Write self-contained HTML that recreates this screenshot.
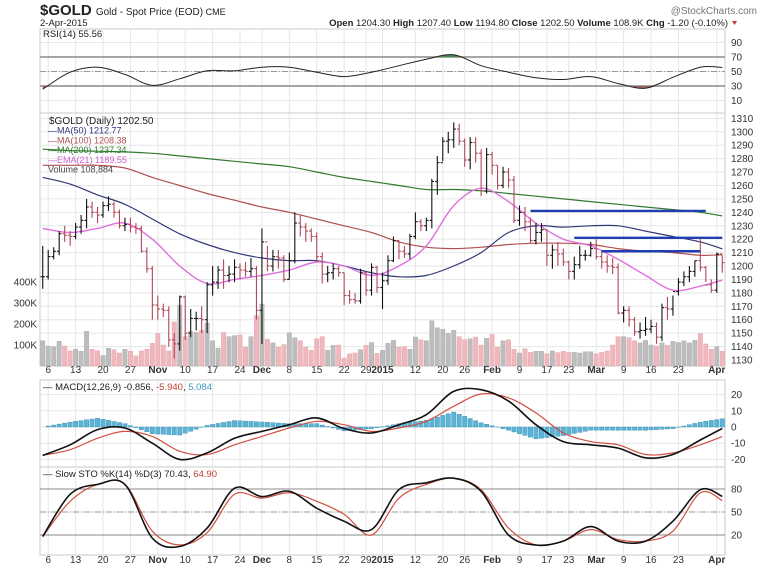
<!DOCTYPE html>
<html><head><meta charset="utf-8"><style>
html,body{margin:0;padding:0;background:#fff;}
svg{display:block;font-family:"Liberation Sans",sans-serif;}
</style></head><body>
<svg id="chart" width="765" height="570" viewBox="0 0 765 570" xmlns="http://www.w3.org/2000/svg">
<rect x="0" y="0" width="765" height="570" fill="#fff"/>
<g id="hdr">
<text x="40" y="15" font-size="15" font-weight="bold" fill="#222">$GOLD <tspan font-size="10" font-weight="normal">Gold - Spot Price (EOD)</tspan><tspan font-size="9" font-weight="normal"> CME</tspan></text>
<text x="40" y="26" font-size="9.5" fill="#222">2-Apr-2015</text>
<text x="757" y="14" font-size="10" fill="#777" text-anchor="end">@StockCharts.com</text>
<text x="728" y="26" font-size="9.5" fill="#222" text-anchor="end"><tspan font-weight="bold">Open</tspan> 1204.30 <tspan font-weight="bold">High</tspan> 1207.40 <tspan font-weight="bold">Low</tspan> 1194.80 <tspan font-weight="bold">Close</tspan> 1202.50 <tspan font-weight="bold">Volume</tspan> 108.9K <tspan font-weight="bold">Chg</tspan> -1.20 (-0.10%)</text>
<path d="M732 21 l5 0 l-2.5 4 z" fill="#c03040"/>
</g>
<g id="layer"></g>
</svg>
<script>
// ---- data ----
const closes=[1192,1207,1211,1224,1223,1222,1229,1234,1244,1240,1238,1245,1246,1240,1230,1231,1229,1228,1211,1198,1171,
1168,1167,1145,1142,1177,1150,1161,1161,1160,1186,1188,1197,1193,1194,1199,1197,1196,1198,1167,
1218,1200,1207,1206,1190,1204,1232,1229,1226,1222,1207,1194,1195,1198,1195,1178,1175,1174,1195,1182,1199,1184,
1189,1204,1219,1211,1209,1222,1233,1230,1234,1263,1277,1293,1294,1302,1293,1279,1292,1284,1256,1283,
1275,1260,1270,1264,1234,1240,1233,1219,1225,1227,1208,1212,1209,1203,1196,1201,1208,1208,1213,
1207,1203,1200,1199,1165,1167,1160,1151,1152,1153,1155,1147,1169,1168,1181,1188,1192,1196,1204,1199,1186,1182,1209,1202.5];
const highs=[1215,1212,1214,1226,1230,1226,1232,1238,1250,1248,1244,1248,1252,1248,1242,1236,1236,1232,1230,1214,1200,
1178,1172,1170,1150,1178,1178,1168,1166,1170,1188,1200,1200,1205,1200,1205,1202,1203,1206,1200,
1228,1215,1212,1212,1208,1210,1240,1238,1232,1228,1225,1210,1200,1202,1200,1195,1182,1180,1198,1196,1202,1200,
1195,1208,1222,1219,1215,1224,1240,1235,1236,1265,1282,1296,1300,1307,1306,1295,1296,1296,1287,1288,
1285,1275,1274,1273,1267,1245,1244,1236,1232,1232,1227,1216,1218,1213,1204,1207,1215,1212,1218,
1220,1211,1208,1206,1202,1170,1170,1162,1158,1162,1160,1158,1172,1177,1178,1191,1196,1200,1204,1220,1200,1190,1210,1208];
const lows=[1183,1190,1205,1208,1218,1215,1220,1224,1228,1236,1232,1236,1241,1236,1228,1226,1225,1224,1210,1195,1160,
1160,1162,1140,1131,1137,1145,1147,1152,1150,1150,1178,1183,1183,1188,1188,1190,1192,1192,1160,
1142,1196,1196,1198,1188,1190,1202,1222,1218,1218,1203,1187,1188,1190,1192,1171,1172,1172,1172,1178,1178,1180,
1168,1186,1203,1205,1206,1205,1220,1226,1226,1228,1253,1278,1284,1288,1290,1274,1272,1277,1252,1254,
1268,1257,1258,1258,1232,1230,1226,1217,1216,1218,1200,1198,1200,1200,1190,1190,1198,1204,1207,
1205,1198,1195,1194,1164,1158,1155,1148,1146,1148,1150,1142,1144,1160,1163,1178,1185,1188,1192,1196,1188,1180,1180,1195];
const volumesK=[120,95,92,118,95,72,80,70,165,80,73,50,85,78,62,80,70,48,72,80,108,
155,100,72,210,290,140,165,160,170,205,120,85,160,140,145,148,90,140,240,
295,128,110,90,102,158,135,120,90,75,130,140,75,98,100,38,58,62,78,98,112,60,
75,108,122,90,92,80,138,125,120,215,182,175,155,170,140,125,130,138,100,132,
150,90,120,125,80,62,82,65,70,70,58,72,64,70,65,65,62,68,68,
58,65,72,100,140,140,135,120,110,122,100,95,110,98,118,112,120,110,122,155,105,80,92,70];
// indicators sampled at these bar indices
const sampleDays=[0,5,10,15,20,25,30,35,40,45,50,55,60,65,70,75,80,85,90,95,100,105,110,115,120,124];
const ma50=[1266,1261,1253,1246,1235,1224,1216,1210,1206,1204,1204,1200,1195,1192,1193,1200,1210,1225,1230,1229,1230,1230,1226,1222,1218,1212.77];
const ma100=[1275,1275,1275,1273,1266,1260,1254,1249,1244,1240,1235,1230,1225,1218,1214,1213,1214,1216,1217,1217,1216,1213,1211,1210,1208,1208.38];
const ma200=[1287,1286,1285.5,1285,1284,1282,1280,1278,1276,1274,1270,1266,1263,1260,1257,1257,1256,1254,1252,1250,1248,1246,1244,1242,1240,1237.34];
const ema21=[1228,1225,1228,1232,1220,1200,1187,1190,1193,1197,1203,1200,1193,1200,1215,1245,1258,1248,1232,1220,1215,1205,1193,1182,1185,1189.55];
const rsi=[25.6,49,56,46,31,40,51,51,56,56,49,43,49,58,67,73,58,49,41.5,39,43,33.5,27,42,56,55.56];
const macd=[-17.5,-11,-1.6,-0.6,-10,-20,-16,-7,-2.7,1.4,5.6,-1,-3.7,1.4,7.6,22,23,16,1.4,-9,-11,-13,-19,-17,-8,-0.856];
const macdSignal=[-17.5,-14,-7,-2.7,-5.8,-15,-17,-11,-5.8,-0.6,3.5,1.4,-2.7,-0.6,3.5,12.8,20.4,18,8.7,-3.7,-9,-11,-17,-16,-11,-5.94];
const stoK=[18,73,86,86,16,5,29,81,70,77,55,38,27,79,88,94,77,20,7,12,31,12,12,38,79,70.43];
const stoD=[18,64,86,86,25,7,23,73,68,75,64,47,20,68,86,94,79,29,7,12,27,14,12,25,75,64.90];
const tickDays=[1,6,11,16,21,26,31,36,40,45,50,55,59,62,68,73,77,82,87,92,96,101,106,111,116,123];
const tickLabels=['6','13','20','27','Nov','10','17','24','Dec','8','15','22','29','2015','12','20','26','Feb','9','17','23','Mar','9','16','23','Apr'];
const priceTicks=[1130,1140,1150,1160,1170,1180,1190,1200,1210,1220,1230,1240,1250,1260,1270,1280,1290,1300,1310];
const volTicks=[100,200,300,400];
const rsiTicks=[10,30,50,70,90];
const macdTicks=[-20,-10,0,10,20];
const stoTicks=[20,50,80];
const resistLevels=[1241,1221,1211];
const resistStart=[89,97,102];
const resistEnd=[121,124,120];

// ---- scales ----
const L=40,R=725,N=closes.length,step=(R-L)/N;
const xi=i=>L+(i+0.5)*step;
const py=p=>360-(p-1130)*1.3425;
const vy=v=>366-v*0.21;
const ry=v=>86-(v-30)*0.725;
const my=v=>427-v*1.62;
const sy=v=>535-(v-20)*0.767;
const NS='http://www.w3.org/2000/svg';
const layer=document.getElementById('layer');
function mk(tag,attrs,parent){const e=document.createElementNS(NS,tag);for(const k in attrs)e.setAttribute(k,attrs[k]);(parent||layer).appendChild(e);return e;}
function valAt(arr,i){for(let k=0;k<sampleDays.length-1;k++){const a=sampleDays[k],b=sampleDays[k+1];if(i>=a&&i<=b){const t=(i-a)/(b-a);return arr[k]+(arr[k+1]-arr[k])*t;}}return arr[arr.length-1];}
function smoothD(arr,fy){const P=sampleDays.map((d,k)=>[xi(d),fy(arr[k])]);let d='M'+P[0][0].toFixed(1)+','+P[0][1].toFixed(1);
  for(let k=0;k<P.length-1;k++){const p0=P[Math.max(0,k-1)],p1=P[k],p2=P[k+1],p3=P[Math.min(P.length-1,k+2)];
    const c1=[p1[0]+(p2[0]-p0[0])/6,p1[1]+(p2[1]-p0[1])/6],c2=[p2[0]-(p3[0]-p1[0])/6,p2[1]-(p3[1]-p1[1])/6];
    d+=' C'+c1[0].toFixed(1)+','+c1[1].toFixed(1)+' '+c2[0].toFixed(1)+','+c2[1].toFixed(1)+' '+p2[0].toFixed(1)+','+p2[1].toFixed(1);}
  return d;}

const panels=[{n:'rsi-panel',t:29,b:113},{n:'price-panel',t:113,b:366},{n:'macd-panel',t:380,b:467},{n:'sto-panel',t:467,b:555}];
panels.forEach(p=>{
  const r=mk('rect',{x:L,y:p.t,width:R-L,height:p.b-p.t,fill:'#fff',stroke:'#c8c8c8','stroke-width':1});
  
  
  tickDays.forEach(d=>{const g=mk('line',{x1:xi(d),x2:xi(d),y1:p.t,y2:p.b,stroke:'#e6e6e6','stroke-width':1});
    
    });
});
function hgrid(ticks,fy,fmt,name,x0){ticks.forEach(t=>{const y=fy(t);
  const g=mk('line',{x1:L,x2:R,y1:y,y2:y,stroke:'#e6e6e6'});
  
  
  const tx=mk('text',{x:x0||731,y:y+3.5,'font-size':10,fill:'#333'});tx.textContent=fmt(t);
  
  });}
hgrid(rsiTicks,ry,String,'rsi-axis-label');
hgrid(priceTicks,py,String,'price-axis-label');
hgrid(macdTicks,my,String,'macd-axis-label');
hgrid(stoTicks,sy,String,'sto-axis-label');
volTicks.forEach(v=>{const tx=mk('text',{x:37,y:vy(v)+3.5,'font-size':10,fill:'#333','text-anchor':'end'});tx.textContent=v+'K';
  
  });
[373,563].forEach(yy=>{tickDays.forEach((d,k)=>{const lb=tickLabels[k];const bold=isNaN(+lb)||lb==='2015';
  const tx=mk('text',{x:xi(d),y:yy,'font-size':10,fill:'#333','text-anchor':'middle','font-weight':bold?'bold':'normal'});tx.textContent=lb;
  
  });});

function poly(arr,fy,color,w,name){
  const e=mk('path',{d:smoothD(arr,fy),fill:'none',stroke:color,'stroke-width':w,'stroke-linejoin':'round'});
  
  return e;}

// RSI
[70,30].forEach(v=>{const e=mk('line',{x1:L,x2:R,y1:ry(v),y2:ry(v),stroke:'#999','stroke-width':1.8});
  
  });
{const e=mk('line',{x1:L,x2:R,y1:ry(50),y2:ry(50),stroke:'#999','stroke-dasharray':'6,2,1,2'});
  
  }
{const defs=mk('defs',{});
 const c1=mk('clipPath',{id:'cOver'},defs);mk('rect',{x:L,y:0,width:R-L,height:ry(70)},c1);
 const c2=mk('clipPath',{id:'cUnder'},defs);mk('rect',{x:L,y:ry(30),width:R-L,height:40},c2);
 const d=smoothD(rsi,ry);
 const a=mk('path',{d:d+' L'+xi(N-1)+','+ry(70)+' L'+xi(0)+','+ry(70)+' Z',fill:'#4a8a50','clip-path':'url(#cOver)'});
 
 
 const b=mk('path',{d:d+' L'+xi(N-1)+','+ry(30)+' L'+xi(0)+','+ry(30)+' Z',fill:'#a06060','clip-path':'url(#cUnder)'});
 
 }
poly(rsi,ry,'#222',1,'rsi-line');
{const t=mk('text',{x:43,y:37,'font-size':9.5,fill:'#222'});t.textContent='RSI(14) 55.56';
 
 }

// Volume
volumesK.forEach((v,i)=>{const up=i===0||closes[i]>=closes[i-1];
  const r=mk('rect',{x:xi(i)-2.2,y:vy(v),width:4.4,height:366-vy(v),fill:up?'#bdbdbd':'#f0b8bc',stroke:up?'#a8a8a8':'#e0a0a8','stroke-width':0.4});
  
  });
// MAs
poly(ma200,py,'#2e7a2e',1.2,'ma200-line');
poly(ma100,py,'#b05050',1.2,'ma100-line');
poly(ma50,py,'#303878',1.2,'ma50-line');
poly(ema21,py,'#e070e0',1.4,'ema21-line');
// price bars
closes.forEach((c,i)=>{const up=i===0||c>=closes[i-1];const col=up?'#111':'#b04858';const x=xi(i);const o=i===0?c:closes[i-1];
  const g=mk('g',{stroke:col,'stroke-width':1.1});
  
  
  mk('line',{x1:x,x2:x,y1:py(highs[i]),y2:py(lows[i])},g);
  mk('line',{x1:x-2.2,x2:x,y1:py(o),y2:py(o)},g);
  mk('line',{x1:x,x2:x+2.2,y1:py(c),y2:py(c)},g);});
// resistance lines
resistLevels.forEach((lv,k)=>{const e=mk('line',{x1:xi(resistStart[k]),x2:xi(resistEnd[k]),y1:py(lv),y2:py(lv),stroke:'#1f3fb0','stroke-width':2.4});
  
  });
// price legend
[['$GOLD (Daily) 1202.50','#222'],['MA(50) 1212.77','#303878'],['MA(100) 1208.38','#b05050'],['MA(200) 1237.34','#2e7a2e'],['EMA(21) 1189.55','#d060d0'],['Volume 108,884','#444']].forEach((it,k)=>{
  const t=mk('text',{x:k===0?49:48,y:124+k*9.7,'font-size':k===0?10:9,fill:it[1]});t.textContent=(k>0&&k<5?'\u2014':'')+it[0];
  
  });

// MACD
for(let i=0;i<N;i++){const h=valAt(macd,i)-valAt(macdSignal,i);const y0=my(0),y1=my(h);
  const r=mk('rect',{x:xi(i)-2.2,y:Math.min(y0,y1),width:4.4,height:Math.abs(y1-y0),fill:'#5ab4d6',stroke:'#3a8ab0','stroke-width':0.4});
  
  }
poly(macdSignal,my,'#d05040',1.2,'macd-signal-line');
poly(macd,my,'#111',1.6,'macd-line');
{const t=mk('text',{x:43,y:390,'font-size':9.5,fill:'#222'});t.innerHTML='\u2014 MACD(12,26,9) -0.856, <tspan fill="#c04030">-5.940</tspan>, <tspan fill="#3a9ac0">5.084</tspan>';
 
 }

// STO
[80,20].forEach(v=>{const e=mk('line',{x1:L,x2:R,y1:sy(v),y2:sy(v),stroke:'#888','stroke-width':1});
  
  });
{const e=mk('line',{x1:L,x2:R,y1:sy(50),y2:sy(50),stroke:'#999','stroke-dasharray':'6,2,1,2'});
  
  }
poly(stoD,sy,'#d05040',1.2,'sto-d-line');
poly(stoK,sy,'#111',1.6,'sto-k-line');
{const t=mk('text',{x:43,y:477,'font-size':9.5,fill:'#222'});t.innerHTML='\u2014 Slow STO %K(14) %D(3) 70.43, <tspan fill="#c04030">64.90</tspan>';
 
 }
</script>
</body></html>
